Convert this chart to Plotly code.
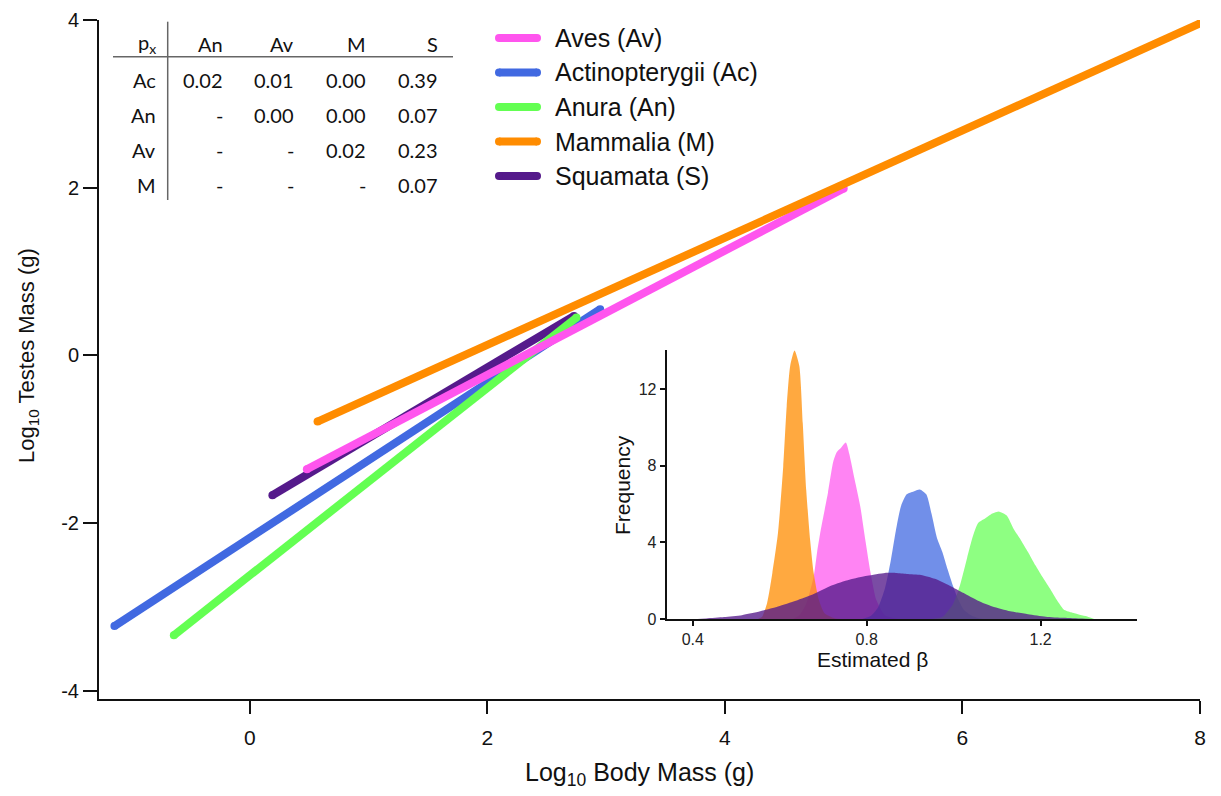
import plotly.graph_objects as go

# ---------------- data ----------------
species = ["Aves (Av)", "Actinopterygii (Ac)", "Anura (An)", "Mammalia (M)", "Squamata (S)"]
colors = ["#FF55EE", "#4169E1", "#63FF52", "#FF8C00", "#551A8B"]

# fitted regression segments (log10 body mass -> log10 testes mass): [start, end]
aves_x = [0.48, 5.0]
aves_y = [-1.36, 1.99]
actino_x = [-1.14, 2.95]
actino_y = [-3.23, 0.55]
anura_x = [-0.64, 2.75]
anura_y = [-3.34, 0.45]
mamm_x = [0.57, 8.0]
mamm_y = [-0.79, 3.96]
squam_x = [0.19, 2.73]
squam_y = [-1.67, 0.47]

# posterior densities of beta
mamm_b = [0.55, 0.559, 0.571, 0.583, 0.596, 0.608, 0.616, 0.624, 0.634, 0.645, 0.653, 0.661, 0.670, 0.678, 0.690, 0.703, 0.727, 0.74]
mamm_f = [0.0, 0.1, 0.83, 2.4, 4.5, 7.95, 11.1, 13.2, 14.0, 13.2, 10.2, 6.7, 4.1, 2.4, 1.0, 0.3, 0.03, 0.0]

aves_b = [0.63, 0.645, 0.661, 0.678, 0.686, 0.694, 0.711, 0.723, 0.731, 0.740, 0.752, 0.760, 0.772, 0.785, 0.797, 0.809, 0.822, 0.842, 0.867, 0.88]
aves_f = [0.0, 0.2, 0.8, 2.2, 3.5, 4.6, 6.6, 8.2, 8.7, 8.9, 9.2, 8.6, 7.3, 5.9, 4.1, 2.4, 1.0, 0.2, 0.03, 0.0]

actino_b = [0.79, 0.809, 0.826, 0.842, 0.855, 0.867, 0.879, 0.892, 0.908, 0.922, 0.937, 0.949, 0.962, 0.974, 0.986, 0.999, 1.011, 1.023, 1.040, 1.056, 1.07]
actino_f = [0.0, 0.15, 0.6, 1.6, 3.0, 4.6, 5.9, 6.5, 6.65, 6.75, 6.5, 5.5, 4.2, 3.5, 2.6, 1.7, 1.0, 0.5, 0.2, 0.05, 0.0]

anura_b = [0.95, 0.974, 0.999, 1.015, 1.031, 1.044, 1.056, 1.073, 1.089, 1.105, 1.122, 1.138, 1.155, 1.171, 1.188, 1.204, 1.221, 1.237, 1.253, 1.270, 1.286, 1.303, 1.323]
anura_f = [0.0, 0.1, 0.8, 1.8, 3.2, 4.3, 5.0, 5.25, 5.5, 5.6, 5.4, 4.7, 4.1, 3.5, 2.8, 2.2, 1.6, 1.0, 0.5, 0.35, 0.25, 0.15, 0.0]

squam_b = [0.40, 0.431, 0.472, 0.513, 0.555, 0.596, 0.637, 0.678, 0.719, 0.760, 0.801, 0.842, 0.867, 0.892, 0.925, 0.957, 0.990, 1.023, 1.056, 1.089, 1.130, 1.171, 1.212, 1.253, 1.295, 1.319]
squam_f = [0.0, 0.03, 0.1, 0.2, 0.4, 0.65, 0.95, 1.3, 1.75, 2.05, 2.25, 2.4, 2.4, 2.35, 2.3, 2.1, 1.75, 1.35, 0.95, 0.65, 0.4, 0.25, 0.12, 0.06, 0.02, 0.0]

# pairwise p-values table
table_cols = ["An", "Av", "M", "S"]
table_rows = ["Ac", "An", "Av", "M"]
table_vals = [
    ["0.02", "0.01", "0.00", "0.39"],
    ["-", "0.00", "0.00", "0.07"],
    ["-", "-", "0.02", "0.23"],
    ["-", "-", "-", "0.07"],
]

x_ticks = [0, 2, 4, 6, 8]
y_ticks = [-4, -2, 0, 2, 4]
inset_x_ticks = [0.4, 0.8, 1.2]
inset_y_ticks = [0, 4, 8, 12]

# ---------------- layout helpers ----------------
W, H = 1221, 796
L, R, T, B = 99, 21, 20, 97
PW, PH = W - L - R, H - T - B


def px(x):
    return (x - L) / PW


def py(y):
    return (H - B - y) / PH


ARIAL = "Liberation Sans, Arial, sans-serif"
CAL = "Lato, Carlito, Calibri, sans-serif"

fig = go.Figure()

# main lines (drawing order bottom -> top)
lines = {
    "Actinopterygii (Ac)": (actino_x, actino_y, colors[1]),
    "Squamata (S)": (squam_x, squam_y, colors[4]),
    "Anura (An)": (anura_x, anura_y, colors[2]),
    "Aves (Av)": (aves_x, aves_y, colors[0]),
    "Mammalia (M)": (mamm_x, mamm_y, colors[3]),
}
for name, (xs, ys, c) in lines.items():
    fig.add_trace(go.Scatter(
        x=xs, y=ys, name=name, mode="lines+markers",
        line=dict(color=c, width=8), marker=dict(color=c, size=8),
        showlegend=False, hoverinfo="skip", xaxis="x", yaxis="y"))


def rgba(hexc, a):
    h = hexc.lstrip("#")
    return "rgba(%d,%d,%d,%.2f)" % (int(h[0:2], 16), int(h[2:4], 16), int(h[4:6], 16), a)


dens = [
    ("Aves (Av)", aves_b, aves_f, colors[0], 0.72),
    ("Mammalia (M)", mamm_b, mamm_f, colors[3], 0.75),
    ("Actinopterygii (Ac)", actino_b, actino_f, colors[1], 0.75),
    ("Anura (An)", anura_b, anura_f, colors[2], 0.72),
    ("Squamata (S)", squam_b, squam_f, colors[4], 0.78),
]
for name, b, f, c, a in dens:
    fig.add_trace(go.Scatter(
        x=b, y=f, name=name, mode="lines", fill="tozeroy",
        line=dict(width=0, shape="spline", smoothing=0.6),
        fillcolor=rgba(c, a), showlegend=False, hoverinfo="skip",
        xaxis="x2", yaxis="y2"))

annotations = []
shapes = []

# custom legend (rounded line samples)
legend_order = ["Aves (Av)", "Actinopterygii (Ac)", "Anura (An)", "Mammalia (M)", "Squamata (S)"]
legend_rows = [38, 72.5, 107, 141.5, 176]
for name, c, yy in zip(legend_order, colors, legend_rows):
    shapes.append(dict(
        type="rect", xref="paper", yref="paper", xsizemode="pixel", ysizemode="pixel",
        xanchor=px(518), yanchor=py(yy), x0=-19, x1=19, y0=-4, y1=4,
        fillcolor=c, line=dict(width=0)))
    for cx in (-19, 19):
        shapes.append(dict(
            type="circle", xref="paper", yref="paper", xsizemode="pixel", ysizemode="pixel",
            xanchor=px(518), yanchor=py(yy), x0=cx - 4, x1=cx + 4, y0=-4, y1=4,
            fillcolor=c, line=dict(width=0)))
    annotations.append(dict(
        x=px(553), y=py(yy), xref="paper", yref="paper", text=name,
        showarrow=False, xanchor="left", yanchor="middle",
        font=dict(family=ARIAL, size=25, color="#111111")))

# table
col_right = [225, 296, 368, 440]
row_y = [80, 115, 150, 185]
header_y = 44
tfont = dict(family=CAL, size=20, color="#111111")
annotations.append(dict(x=px(158), y=py(header_y), xref="paper", yref="paper",
                        text="p<sub>x</sub>", showarrow=False, xanchor="right", yanchor="middle",
                        font=tfont))
for cx, lab in zip(col_right, table_cols):
    annotations.append(dict(x=px(cx), y=py(header_y), xref="paper", yref="paper",
                            text=lab, showarrow=False, xanchor="right", yanchor="middle",
                            font=tfont))
for ry, rlab, vals in zip(row_y, table_rows, table_vals):
    annotations.append(dict(x=px(158), y=py(ry), xref="paper", yref="paper",
                            text=rlab, showarrow=False, xanchor="right", yanchor="middle",
                            font=tfont))
    for cx, v in zip(col_right, vals):
        annotations.append(dict(x=px(cx), y=py(ry), xref="paper", yref="paper",
                                text=v, showarrow=False, xanchor="right", yanchor="middle",
                                font=tfont))
shapes.append(dict(type="line", xref="paper", yref="paper", x0=px(167.7), x1=px(167.7),
                   y0=py(21.7), y1=py(200), line=dict(color="#666666", width=1.5)))
shapes.append(dict(type="line", xref="paper", yref="paper", x0=px(113), x1=px(453),
                   y0=py(56.7), y1=py(56.7), line=dict(color="#666666", width=1.5)))

# axis titles
annotations.append(dict(x=px(28), y=py(356), xref="paper", yref="paper",
                        text="Log<sub>10</sub> Testes Mass (g)", textangle=-90, showarrow=False,
                        xanchor="center", yanchor="middle",
                        font=dict(family=ARIAL, size=22, color="#111111")))
annotations.append(dict(x=px(639), y=py(774), xref="paper", yref="paper",
                        text="Log<sub>10</sub> Body Mass (g)", showarrow=False,
                        xanchor="center", yanchor="middle",
                        font=dict(family=ARIAL, size=25, color="#111111")))
annotations.append(dict(x=px(622), y=py(485), xref="paper", yref="paper",
                        text="Frequency", textangle=-90, showarrow=False,
                        xanchor="center", yanchor="middle",
                        font=dict(family=ARIAL, size=21, color="#111111")))
annotations.append(dict(x=px(872), y=py(659), xref="paper", yref="paper",
                        text="Estimated β", showarrow=False,
                        xanchor="center", yanchor="middle",
                        font=dict(family=ARIAL, size=21, color="#111111")))

fig.update_layout(
    width=W, height=H, margin=dict(l=L, r=R, t=T, b=B, autoexpand=False),
    paper_bgcolor="white", plot_bgcolor="rgba(0,0,0,0)",
    showlegend=False,
    xaxis=dict(range=[-1.27, 8.0], tickvals=x_ticks, ticktext=[str(v) for v in x_ticks],
               showgrid=False, zeroline=False, showline=True, linecolor="#111111", linewidth=2,
               ticks="outside", ticklen=13, tickwidth=2, tickcolor="#111111",
               tickfont=dict(family=ARIAL, size=21, color="#111111"), ticklabelstandoff=6,
               domain=[0, 1], anchor="y"),
    yaxis=dict(range=[-4.1, 4.0], tickvals=y_ticks, ticktext=[str(v) for v in y_ticks],
               showgrid=False, zeroline=False, showline=True, linecolor="#111111", linewidth=2,
               ticks="outside", ticklen=14, tickwidth=2, tickcolor="#111111",
               tickfont=dict(family=ARIAL, size=20, color="#111111"),
               domain=[0, 1], anchor="x"),
    xaxis2=dict(range=[0.34, 1.421], tickvals=inset_x_ticks, ticktext=["0.4", "0.8", "1.2"],
                showgrid=False, zeroline=False, showline=True, linecolor="#111111", linewidth=2,
                ticks="outside", ticklen=5, tickwidth=1.5, tickcolor="#111111",
                tickfont=dict(family=ARIAL, size=16, color="#222222"),
                domain=[px(666.7), px(1136.7)], anchor="y2"),
    yaxis2=dict(range=[0, 14.03], tickvals=inset_y_ticks, ticktext=[str(v) for v in inset_y_ticks],
                showgrid=False, zeroline=False, showline=True, linecolor="#111111", linewidth=2,
                ticks="outside", ticklen=5, tickwidth=1.5, tickcolor="#111111",
                tickfont=dict(family=ARIAL, size=16, color="#222222"),
                domain=[py(619), py(350)], anchor="x2"),
    annotations=annotations,
    shapes=shapes,
)

fig.write_html("out.html", config={"displayModeBar": False},
               post_script="document.body.style.margin='0';document.body.style.padding='0';")
